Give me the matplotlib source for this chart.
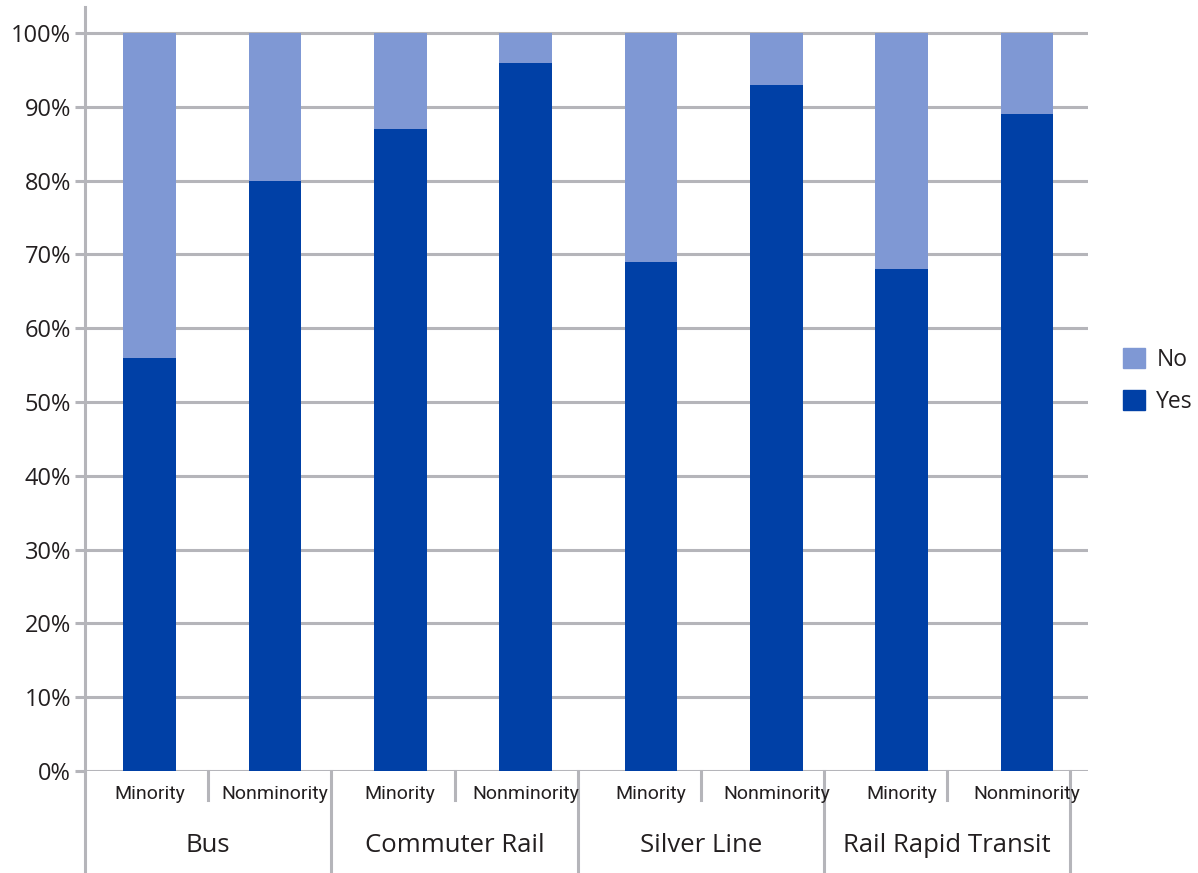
import matplotlib
matplotlib.use("Agg")
import matplotlib.pyplot as plt
from matplotlib.patches import Patch
import matplotlib.transforms as mtransforms

groups = ["Bus", "Commuter Rail", "Silver Line", "Rail Rapid Transit"]
subgroups = ["Minority", "Nonminority"]
yes_vals = [56, 80, 87, 96, 69, 93, 68, 89]
no_vals = [100 - v for v in yes_vals]
yticks = [0, 10, 20, 30, 40, 50, 60, 70, 80, 90, 100]
ytick_labels = [f"{t}%" for t in yticks]

YES_C = "#0040A6"
NO_C = "#7F98D4"
GRID_C = "#B5B5BA"
TEXT_C = "#231F20"

plt.rcParams['font.family'] = ['Open Sans', 'DejaVu Sans']

W, H = 1198, 873
fig = plt.figure(figsize=(W / 100, H / 100), dpi=100)
ax_left, ax_right = 85 / W, 1088 / W
ax_bottom, ax_top = (H - 771) / H, (H - 7) / H
ax = fig.add_axes([ax_left, ax_bottom, ax_right - ax_left, ax_top - ax_bottom])

n = len(yes_vals)
x = list(range(n))
bw = 0.42
ax.bar(x, yes_vals, width=bw, color=YES_C, zorder=3, label="Yes")
ax.bar(x, no_vals, bottom=yes_vals, width=bw, color=NO_C, zorder=3, label="No")

off = 1.8 / 125.4
ax.set_xlim(-0.5 - off, n - 0.5 - off)
ax.set_ylim(0, 100 * (771 - 7) / (771 - 33))
ax.set_yticks(yticks)
ax.set_yticklabels(ytick_labels, fontsize=17, color=TEXT_C)
ax.set_xticks([])
ax.yaxis.grid(True, color=GRID_C, linewidth=2.2, zorder=0)
ax.tick_params(axis='y', length=7, width=2.2, color=GRID_C, pad=3)

for s in ["top", "right", "bottom"]:
    ax.spines[s].set_visible(False)
ax.spines["left"].set_color(GRID_C)
ax.spines["left"].set_linewidth(2.2)

trans = mtransforms.blended_transform_factory(ax.transData, ax.transAxes)
axh = 771 - 7
major_depth = -(873 - 771) / axh
minor_depth = -(800 - 771) / axh
step = 123.2 / 125.4
x0 = -0.5 - off
for k in range(n + 1):
    xs = x0 + k * step
    depth = major_depth if k % 2 == 0 else minor_depth
    ax.plot([xs, xs], [0, depth], transform=trans, color=GRID_C,
            linewidth=2.2, clip_on=False, zorder=1)

for i in range(n):
    ax.text(i, -(794 - 771) / axh, subgroups[i % 2], transform=trans,
            ha="center", va="center", fontsize=14, color=TEXT_C,
            family=['Roboto', 'DejaVu Sans'])
for g, name in enumerate(groups):
    xc = x0 + (2 * g + 1) * step
    ax.text(xc, -(846 - 771) / axh, name, transform=trans,
            ha="center", va="center", fontsize=18.5, color=TEXT_C)

handles = [Patch(facecolor=NO_C, edgecolor=NO_C, label="No"),
           Patch(facecolor=YES_C, edgecolor=YES_C, label="Yes")]
fig.legend(handles=handles, loc="center left",
           bbox_to_anchor=(1114 / W, 1 - 381 / H), frameon=False,
           fontsize=16.5, handlelength=0.95, handleheight=0.95,
           handletextpad=0.5, labelspacing=0.8, borderaxespad=0,
           labelcolor=TEXT_C)

fig.savefig("out.png", dpi=100)
